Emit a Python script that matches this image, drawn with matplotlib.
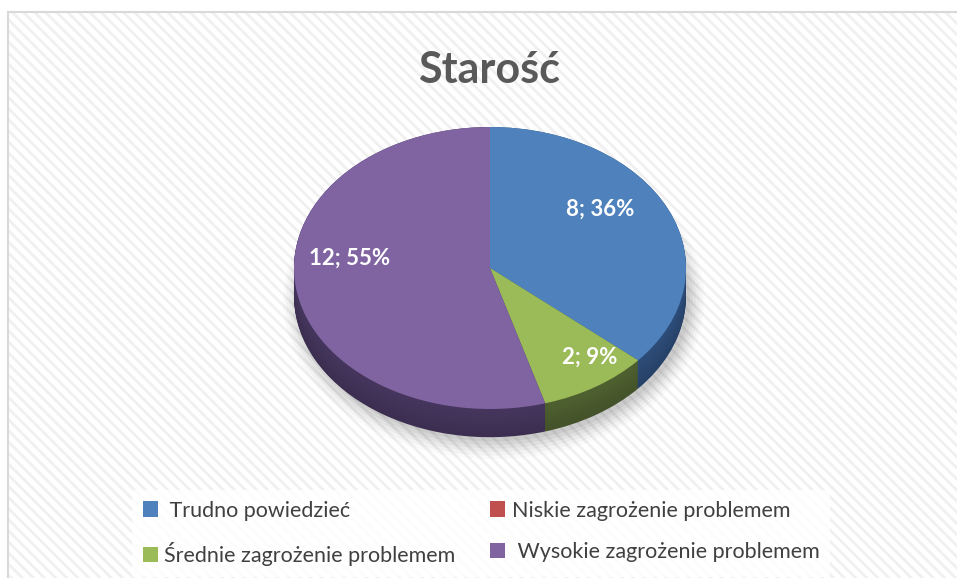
import numpy as np
import matplotlib
matplotlib.use("Agg")
import matplotlib.pyplot as plt
from matplotlib.patches import Rectangle, Ellipse
from matplotlib.colors import to_rgb

# ----- DATA -----
title = "Starość"
categories = [" Trudno powiedzieć", "Niskie zagrożenie problemem",
              "Średnie zagrożenie problemem", " Wysokie zagrożenie problemem"]
counts = [8, 0, 2, 12]

# ----- STYLE -----
top_colors = ["#4f81bd", "#c0504d", "#9bbb59", "#8064a2"]
side_colors = ["#2d4d7a", "#7a2f2d", "#4f6130", "#46365e"]
label_pos = [(0.56, 0.42), None, (0.51, -0.63), (-0.715, 0.07)]  # data-label placement
depth = 0.2
n_layers = 30

plt.rcParams["font.family"] = ["Lato", "DejaVu Sans"]

W, H = 957, 578
fig = plt.figure(figsize=(W / 100, H / 100), dpi=100)
fig.patch.set_facecolor("white")

# background panel with faint diagonal stripes
plt.rcParams["hatch.linewidth"] = 2.0
fig.patches.append(Rectangle((8 / W, 0), 1, 1 - 12 / H, transform=fig.transFigure,
                             facecolor="white", edgecolor="#f0f0f0", hatch="\\\\\\",
                             linewidth=0, zorder=-2))
fig.patches.append(Rectangle((8 / W, -0.01), 1, 1 - 12 / H + 0.01, transform=fig.transFigure,
                             facecolor="none", edgecolor="#d9d9d9", linewidth=1.5, zorder=-1))

# axes spanning the figure; unit radius -> 196 px wide, 141 px high
cx, cy = 490, 310
rx, ry = 196, 141
ax = fig.add_axes([0, 0, 1, 1])
ax.patch.set_alpha(0)

# soft shadow
for i, a in enumerate(np.linspace(0.05, 0.02, 6)):
    ax.add_patch(Ellipse((0.02, -depth - 0.03), 2.0 + 0.03 * i, 2.0 + 0.05 * i,
                         facecolor="black", alpha=a, linewidth=0, zorder=0))

# side wall: stacked darker pies
for k, off in enumerate(np.linspace(-depth, 0, n_layers)):
    f = 0.85 + 0.15 * k / (n_layers - 1)
    cols = [tuple(np.clip(np.array(to_rgb(c)) * f, 0, 1)) for c in side_colors]
    ax.pie(counts, colors=cols, startangle=90, counterclock=False,
           center=(0, off), radius=1, wedgeprops=dict(linewidth=0))

total = sum(counts)


def fmt(pct):
    v = int(round(pct * total / 100))
    if v == 0:
        return ""
    return f"{v}; {pct:.0f}%"


wedges, _, autotexts = ax.pie(counts, colors=top_colors, startangle=90, counterclock=False,
                              center=(0, 0), radius=1, autopct=fmt, pctdistance=0.7,
                              wedgeprops=dict(linewidth=0),
                              textprops=dict(color="white", fontsize=16, fontweight="bold"))
for t, p in zip(autotexts, label_pos):
    if p is not None:
        t.set_position(p)

ax.set_aspect("auto")
ax.set_xlim(-cx / rx, (W - cx) / rx)
ax.set_ylim(-cy / ry, (H - cy) / ry)
ax.axis("off")

fig.text(489 / W, 1 - 70 / H, title, ha="center", va="center",
         fontsize=31, fontweight="bold", color="#595959")

# legend (column-wise fill -> reorder to match row layout)
order = [0, 2, 1, 3]
leg = fig.legend([wedges[i] for i in order], [categories[i] for i in order],
                 loc="lower left", bbox_to_anchor=(132 / W, 0.002), ncol=2,
                 fontsize=15.5, frameon=True, fancybox=False, edgecolor="none",
                 facecolor="white", framealpha=0.85, handlelength=0.7, handleheight=0.7,
                 handletextpad=0.3, columnspacing=1.6, labelspacing=1.0,
                 borderpad=0.5, borderaxespad=0, labelcolor="#404040")

fig.savefig("out.png", dpi=100)
